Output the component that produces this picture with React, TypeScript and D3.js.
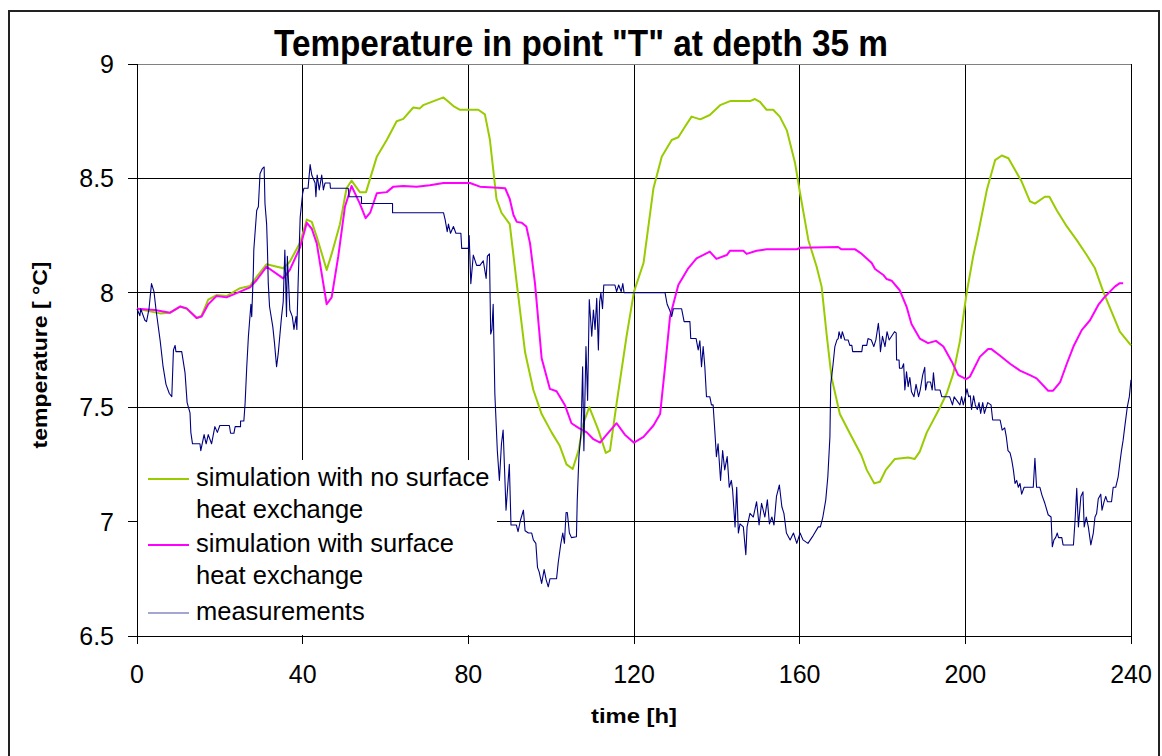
import React from "react";
import * as d3 from "d3";

// ---- data ----
const xTicks = [0, 40, 80, 120, 160, 200, 240];
const yTicks = [6.5, 7, 7.5, 8, 8.5, 9];
const yTickLabels = ["6.5", "7", "7.5", "8", "8.5", "9"];

const seriesNames = [
  ["simulation with no surface", "heat exchange"],
  ["simulation with surface", "heat exchange"],
  ["measurements"],
];
const seriesColors = ["#99CC00", "#FF00FF", "#000080"];

// simulation with no surface heat exchange  [time h, temperature °C]
const noSurface: [number, number][] = [
  [0, 7.93], [5.6, 7.91], [8, 7.913], [10.4, 7.94], [12, 7.93], [14.4, 7.89], [15.6, 7.9], [17.2, 7.97],
  [19.2, 7.99], [21.6, 7.986], [24.9, 8.02], [27.3, 8.03], [28.9, 8.07], [31.3, 8.125], [35.3, 8.107],
  [36.9, 8.136], [39.4, 8.22], [41, 8.32], [42.2, 8.31], [43.4, 8.245], [45.8, 8.1], [47, 8.17], [49, 8.3],
  [50.6, 8.457], [51.8, 8.49], [53.8, 8.44], [55.3, 8.44], [57.9, 8.595], [60.3, 8.668], [62.7, 8.75],
  [64.3, 8.76], [66.7, 8.81], [68.3, 8.806], [69.1, 8.82], [74, 8.854], [76.4, 8.816], [78, 8.8], [82.4, 8.8],
  [84, 8.78], [85.2, 8.67], [86.8, 8.41], [88, 8.35], [90, 8.3], [91.7, 8.04], [93.7, 7.74], [95.7, 7.575],
  [97.7, 7.47], [100.1, 7.39], [102.1, 7.33], [103.7, 7.25], [105.2, 7.23], [106.6, 7.31], [107.8, 7.43],
  [109.2, 7.5], [111.4, 7.4], [113.2, 7.3], [114.2, 7.31], [115.8, 7.517], [118.2, 7.81], [120, 8.005],
  [122.3, 8.13], [124.7, 8.457], [126.7, 8.595], [129.1, 8.668], [130.7, 8.68], [132.3, 8.726], [133.9, 8.77],
  [136, 8.758], [138.3, 8.777], [140.8, 8.82], [143.2, 8.838], [148, 8.838], [149.2, 8.847], [150.4, 8.835],
  [152, 8.8], [153.6, 8.8], [155.2, 8.77], [156.9, 8.71], [158.9, 8.566], [160.1, 8.435], [162.1, 8.23],
  [164.1, 8.114], [165.3, 8.027], [166.5, 7.82], [167.7, 7.63], [169.7, 7.47], [172.1, 7.386], [174.9, 7.29],
  [176.2, 7.226], [178, 7.167], [179.4, 7.174], [180.8, 7.226], [183, 7.274], [186.2, 7.28], [187.8, 7.274],
  [189, 7.306], [190.7, 7.39], [193.9, 7.5], [195.5, 7.56], [197.1, 7.648], [198.7, 7.79], [200.3, 7.998],
  [201.9, 8.16], [203.1, 8.26], [205.2, 8.45], [207.2, 8.58], [208.8, 8.6], [210.4, 8.588], [211.6, 8.55],
  [213.6, 8.486], [215.6, 8.4], [216.8, 8.39], [219.2, 8.42], [220.3, 8.42], [222.1, 8.36], [224.5, 8.29],
  [226.9, 8.23], [229.3, 8.165], [231.3, 8.107], [233.3, 8.005], [235.7, 7.9], [237.3, 7.83], [240, 7.77],
];

// simulation with surface heat exchange
const withSurface: [number, number][] = [
  [0, 7.93], [4.3, 7.925], [8, 7.913], [10.4, 7.94], [12, 7.932], [14.4, 7.89], [15.6, 7.896], [17.2, 7.95],
  [19.2, 7.986], [21.6, 7.98], [24.9, 8.005], [27.3, 8.024], [28.9, 8.056], [31.3, 8.114], [35.3, 8.063],
  [36.9, 8.1], [39.4, 8.2], [41, 8.306], [42.2, 8.28], [43.4, 8.216], [45.8, 7.95], [47, 7.98], [48.6, 8.16],
  [50.2, 8.376], [51.8, 8.467], [53.8, 8.39], [55.2, 8.326], [56.3, 8.35], [57.9, 8.435], [60.3, 8.44],
  [61.9, 8.464], [64.3, 8.467], [67.5, 8.464], [70.7, 8.47], [74, 8.48], [80.4, 8.48], [82.8, 8.464],
  [86, 8.46], [88.9, 8.457], [90, 8.41], [90.9, 8.34], [91.7, 8.31], [92.9, 8.306], [94, 8.29], [94.9, 8.216],
  [96.1, 8.04], [97.7, 7.714], [99.7, 7.58], [101.3, 7.57], [103.3, 7.51], [104.9, 7.43], [106.6, 7.41],
  [108.6, 7.39], [110.2, 7.36], [111.8, 7.345], [113.4, 7.38], [115.8, 7.43], [117.8, 7.38], [120, 7.345],
  [122.3, 7.37], [124.7, 7.42], [126.3, 7.47], [127.5, 7.677], [128.7, 7.896], [130.7, 8.034], [133.1, 8.107],
  [135.1, 8.15], [138.3, 8.18], [139.9, 8.148], [142.4, 8.165], [143.2, 8.184], [146.4, 8.184], [147.2, 8.17],
  [149.6, 8.184], [152, 8.19], [159.3, 8.19], [160.1, 8.197], [169.3, 8.2], [170.1, 8.19], [173.4, 8.19],
  [175, 8.17], [177.4, 8.13], [178.2, 8.104], [180.2, 8.078], [181, 8.06], [182.2, 8.053], [184.2, 8.01],
  [185.8, 7.94], [187, 7.864], [189, 7.8], [191, 7.78], [192.9, 7.79], [194.7, 7.765], [196.7, 7.7],
  [198.3, 7.64], [200.2, 7.623], [201.1, 7.633], [203.5, 7.72], [205.5, 7.754], [206.3, 7.754], [208.4, 7.725],
  [210.8, 7.69], [213.2, 7.66], [215.6, 7.64], [217.2, 7.626], [220, 7.572], [221.2, 7.572], [222.9, 7.61],
  [224.5, 7.69], [226.1, 7.765], [228.1, 7.837], [230.1, 7.88], [232.1, 7.947], [233.7, 7.983], [236.1, 8.027],
  [237.3, 8.042], [238.1, 8.042],
];

// measurements
const measurements: [number, number][] = [
  [0, 7.93], [0.7, 7.9], [0.9, 7.93], [1.9, 7.88], [2.3, 7.874], [2.9, 7.93], [3.5, 8.04], [4.1, 8.005],
  [4.6, 7.925], [5.6, 7.79], [6.3, 7.677], [7, 7.6], [7.8, 7.56], [8.4, 7.546], [8.8, 7.75], [9.2, 7.77],
  [9.4, 7.743], [10.8, 7.743], [11.6, 7.65], [12.1, 7.52], [12.8, 7.475], [13, 7.39], [13.4, 7.34], [15.2, 7.34],
  [15.4, 7.31], [16.2, 7.38], [16.7, 7.34], [17.2, 7.38], [18, 7.34], [18.8, 7.415], [19.4, 7.39], [20, 7.42],
  [22.3, 7.42], [22.6, 7.386], [23.4, 7.386], [23.7, 7.415], [25, 7.415], [25, 7.44], [25.8, 7.44],
  [26.1, 7.517], [26.5, 7.677], [26.9, 7.81], [27.5, 7.95], [27.7, 7.896], [28.1, 8.1], [28.2, 8.187],
  [28.9, 8.36], [29.3, 8.376], [29.7, 8.52], [30.3, 8.544], [30.7, 8.55], [30.9, 8.39], [31.3, 8.3],
  [31.5, 8.187], [31.7, 8.04], [32, 7.94], [32.8, 7.85], [33.2, 7.78], [33.7, 7.677], [34.1, 7.735],
  [34.9, 7.896], [35.3, 7.96], [35.7, 8.187], [36.1, 7.896], [36.3, 8.16], [36.9, 7.925], [37.5, 7.896],
  [37.9, 7.84], [38.4, 7.896], [38.6, 7.84], [38.9, 8.04], [39.4, 8.33], [40, 8.435], [40.3, 8.457],
  [41.3, 8.457], [41.8, 8.56], [42.2, 8.515], [43, 8.48], [43.2, 8.42], [43.5, 8.515], [44, 8.45],
  [44.6, 8.515], [45, 8.45], [45.4, 8.48], [46.6, 8.48], [46.7, 8.457], [51, 8.457], [51.2, 8.42], [54.2, 8.42],
  [54.2, 8.39], [61.7, 8.39], [61.7, 8.35], [74, 8.35], [74.4, 8.32], [74.9, 8.267], [75.2, 8.3], [75.7, 8.26],
  [76.4, 8.29], [77, 8.26], [78.2, 8.26], [78.4, 8.194], [80, 8.194], [80.2, 8.25], [80.6, 8.04], [81.2, 8.165],
  [82, 8.12], [82.8, 8.12], [83.6, 8.14], [84.3, 8.063], [84.6, 8.16], [85.1, 8.17], [85.4, 7.82], [85.7, 7.84],
  [86, 7.95], [86.4, 7.56], [87, 7.31], [87.5, 7.18], [88, 7.34], [88.4, 7.4], [89.1, 7.05], [89.9, 7.25],
  [90.3, 6.985], [91.6, 6.985], [92, 6.956], [92.6, 7.007], [93.3, 7.05], [93.7, 6.96], [94.5, 6.95],
  [95.3, 6.95], [95.7, 6.92], [96.3, 6.905], [96.7, 6.8], [97.1, 6.78], [97.7, 6.73], [98.3, 6.79],
  [98.8, 6.745], [99.3, 6.715], [99.7, 6.75], [101.3, 6.75], [101.7, 6.82], [102.3, 6.9], [102.8, 6.95],
  [103.2, 6.905], [103.6, 7.04], [103.9, 7.04], [104.4, 6.95], [104.9, 6.93], [106.1, 6.934], [106.3, 7.095],
  [106.7, 7.284], [107.2, 7.386], [107.6, 7.677], [107.9, 7.31], [108.4, 7.765], [108.8, 7.53], [109.2, 7.97],
  [109.8, 7.81], [110.2, 7.925], [110.6, 7.84], [111, 7.976], [111.4, 7.75], [111.7, 7.96], [112, 8.0],
  [112.4, 7.93], [112.7, 8.034], [115.4, 8.034], [115.8, 8.005], [116.3, 8.034], [116.9, 8.005], [117.3, 8.04],
  [117.6, 8.0], [127.5, 8.0], [128, 7.95], [128.6, 7.925], [129.1, 7.896], [129.5, 7.93], [131.5, 7.93],
  [132.1, 7.874], [133.5, 7.874], [133.7, 7.8], [135, 7.8], [135.5, 7.75], [135.9, 7.79], [136.3, 7.677],
  [136.7, 7.765], [137.1, 7.677], [137.5, 7.546], [138.3, 7.546], [138.7, 7.51], [139.1, 7.51], [139.5, 7.4],
  [139.9, 7.284], [140.3, 7.34], [140.9, 7.18], [141.4, 7.31], [141.9, 7.226], [142.5, 7.284], [143, 7.15],
  [143.5, 7.18], [143.8, 7.14], [144.4, 6.977], [144.8, 7.15], [145.2, 6.95], [145.6, 6.99], [146.4, 6.977],
  [147, 6.855], [147.3, 6.977], [148, 7.036], [148.8, 7.02], [149.6, 7.087], [150.2, 6.985], [150.8, 7.08],
  [151.6, 7.02], [152.2, 7.095], [152.7, 6.99], [153.3, 7.02], [153.8, 6.985], [154.4, 7.11], [155.1, 7.16],
  [155.7, 7.065], [156.2, 7.036], [156.8, 6.95], [157.7, 6.92], [158.5, 6.95], [159.3, 6.905], [160.1, 6.95],
  [160.8, 6.92], [162, 6.905], [163.3, 6.94], [164.5, 6.977], [165, 6.977], [165.6, 7.02], [166.3, 7.095],
  [166.8, 7.196], [167.3, 7.37], [167.5, 7.6], [168, 7.677], [168.5, 7.765], [169, 7.794], [169.3, 7.8],
  [169.5, 7.83], [170, 7.8], [170.3, 7.83], [170.9, 7.794], [171.7, 7.794], [172.1, 7.77], [172.6, 7.77],
  [172.8, 7.743], [175, 7.743], [175.2, 7.77], [176.2, 7.77], [176.5, 7.8], [177.3, 7.794], [177.9, 7.765],
  [178.4, 7.794], [179, 7.867], [179.3, 7.81], [179.5, 7.743], [180, 7.81], [180.6, 7.765], [181.1, 7.83],
  [181.6, 7.794], [182.9, 7.83], [183.3, 7.825], [183.4, 7.706], [184, 7.706], [184.1, 7.67], [184.7, 7.67],
  [185.1, 7.69], [185.4, 7.575], [185.8, 7.655], [186.2, 7.59], [186.6, 7.63], [187, 7.567], [187.6, 7.546],
  [188.1, 7.6], [188.7, 7.546], [189.1, 7.575], [189.7, 7.64], [190.2, 7.674], [190.4, 7.575], [190.8, 7.61],
  [191.6, 7.61], [192, 7.575], [192.3, 7.65], [192.7, 7.575], [193.9, 7.575], [194.3, 7.546], [196.2, 7.546],
  [196.9, 7.51], [197.3, 7.545], [198.7, 7.51], [199.1, 7.546], [199.5, 7.51], [200, 7.546], [200.4, 7.58],
  [200.8, 7.546], [201.2, 7.55], [201.5, 7.49], [202, 7.55], [202.4, 7.51], [202.9, 7.49], [203.3, 7.52],
  [203.7, 7.473], [204.2, 7.52], [204.6, 7.473], [205.4, 7.52], [206.2, 7.51], [206.6, 7.444], [208.4, 7.444],
  [208.9, 7.4], [209.5, 7.41], [209.9, 7.37], [210.3, 7.31], [210.8, 7.3], [211.2, 7.27], [211.6, 7.226],
  [212, 7.167], [212.4, 7.18], [212.8, 7.15], [213.2, 7.167], [213.6, 7.12], [214.2, 7.15], [215.6, 7.15],
  [216.4, 7.15], [216.8, 7.277], [217.2, 7.15], [218, 7.15], [218.5, 7.116], [219.2, 7.08], [220, 7.03],
  [220.7, 7.02], [221, 6.89], [221.4, 6.92], [221.8, 6.93], [222.2, 6.95], [222.5, 6.93], [223.3, 6.93],
  [223.6, 6.898], [226.1, 6.898], [226.5, 7.007], [226.9, 7.145], [227.3, 6.977], [227.9, 7.11], [228.4, 7.13],
  [228.7, 6.977], [229.2, 7.02], [229.7, 6.977], [230.3, 6.898], [230.9, 6.95], [231.3, 7.02], [231.7, 7.035],
  [232.1, 7.1], [232.7, 7.12], [233, 7.05], [233.5, 7.087], [233.9, 7.11], [234.3, 7.087], [235.3, 7.087],
  [235.7, 7.15], [236.3, 7.15], [236.9, 7.196], [237.3, 7.255], [237.7, 7.31], [238.1, 7.356], [238.5, 7.415],
  [239.1, 7.5], [239.6, 7.546], [240, 7.62],
];

const FONT = "'Liberation Sans', Arial, sans-serif";

export default function App() {
  const W = 1162;
  const H = 756;
  const left = 137;
  const right = 1131;
  const top = 64;
  const bottom = 636;

  const x = d3.scaleLinear().domain([0, 240]).range([left, right]);
  const y = d3.scaleLinear().domain([6.5, 9]).range([bottom, top]);

  const line = d3
    .line<[number, number]>()
    .x((d) => x(d[0]))
    .y((d) => y(d[1]));

  const series = [noSurface, withSurface, measurements];
  const widths = [2, 2, 1.1];

  // legend layout
  const legX = 148;
  const legLineLen = 41;
  const legTextX = 196;
  const legLineYs = [479, 545, 613];
  const legBaselines = [
    [486, 518],
    [552, 584],
    [620],
  ];

  return (
    <svg
      width={W}
      height={H}
      style={{ position: "absolute", left: 0, top: 0, display: "block", background: "#fff" }}
      fontFamily={FONT}
    >
      <rect x={0} y={0} width={W} height={H} fill="#fff" />
      {/* outer chart border */}
      <rect x={9} y={11} width={1150} height={800} fill="none" stroke="#222" strokeWidth={2} />

      {/* title */}
      <text
        x={581}
        y={56}
        textAnchor="middle"
        fontSize={36}
        fontWeight="bold"
        textLength={614}
        lengthAdjust="spacingAndGlyphs"
        fill="#000"
      >
        Temperature in point "T" at depth 35 m
      </text>

      {/* gridlines */}
      <g shapeRendering="crispEdges">
        {yTicks
          .filter((t) => t > 6.5 && t < 9)
          .map((t) => (
            <line key={"gy" + t} x1={left} x2={right} y1={y(t)} y2={y(t)} stroke="#000" strokeWidth={1} />
          ))}
        {xTicks
          .filter((t) => t > 0 && t < 240)
          .map((t) => (
            <line key={"gx" + t} x1={x(t)} x2={x(t)} y1={top} y2={bottom} stroke="#000" strokeWidth={1} />
          ))}
        {/* plot border */}
        <line x1={left} x2={right} y1={top} y2={top} stroke="#808080" strokeWidth={1} />
        <line x1={right} x2={right} y1={top} y2={bottom} stroke="#000" strokeWidth={1} />
        <line x1={left} x2={left} y1={top} y2={bottom} stroke="#000" strokeWidth={1} />
        <line x1={left} x2={right} y1={bottom} y2={bottom} stroke="#000" strokeWidth={1} />
        {/* ticks */}
        {yTicks.map((t) => (
          <line key={"ty" + t} x1={left - 9} x2={left} y1={y(t)} y2={y(t)} stroke="#000" strokeWidth={1} />
        ))}
        {xTicks.map((t) => (
          <line key={"tx" + t} x1={x(t)} x2={x(t)} y1={bottom} y2={bottom + 8} stroke="#000" strokeWidth={1} />
        ))}
      </g>

      {/* series */}
      {series.map((s, i) => (
        <path
          key={"s" + i}
          d={line(s) || ""}
          fill="none"
          stroke={seriesColors[i]}
          strokeWidth={widths[i]}
          strokeLinejoin="round"
        />
      ))}

      {/* tick labels */}
      {yTicks.map((t, i) => (
        <text key={"ly" + t} x={114} y={y(t) + 9} textAnchor="end" fontSize={25} fill="#000">
          {yTickLabels[i]}
        </text>
      ))}
      {xTicks.map((t) => (
        <text key={"lx" + t} x={x(t)} y={683} textAnchor="middle" fontSize={25} fill="#000">
          {String(t)}
        </text>
      ))}

      {/* axis titles */}
      <text
        x={634}
        y={723}
        textAnchor="middle"
        fontSize={20}
        fontWeight="bold"
        textLength={86}
        lengthAdjust="spacingAndGlyphs"
      >
        time [h]
      </text>
      <text
        transform={`translate(47, 355) rotate(-90)`}
        textAnchor="middle"
        fontSize={20}
        fontWeight="bold"
        textLength={187}
        lengthAdjust="spacingAndGlyphs"
      >
        temperature [ °C]
      </text>

      {/* legend */}
      <rect x={138} y={460} width={359} height={175} fill="#fff" />
      {seriesNames.map((names, i) => (
        <g key={"leg" + i}>
          <line
            x1={legX}
            x2={legX + legLineLen}
            y1={legLineYs[i]}
            y2={legLineYs[i]}
            stroke={seriesColors[i]}
            strokeWidth={i === 2 ? 1.2 : 2}
            opacity={i === 2 ? 0.7 : 1}
          />
          {names.map((n, j) => (
            <text key={j} x={legTextX} y={legBaselines[i][j]} fontSize={25.5} fill="#000">
              {n}
            </text>
          ))}
        </g>
      ))}
    </svg>
  );
}
